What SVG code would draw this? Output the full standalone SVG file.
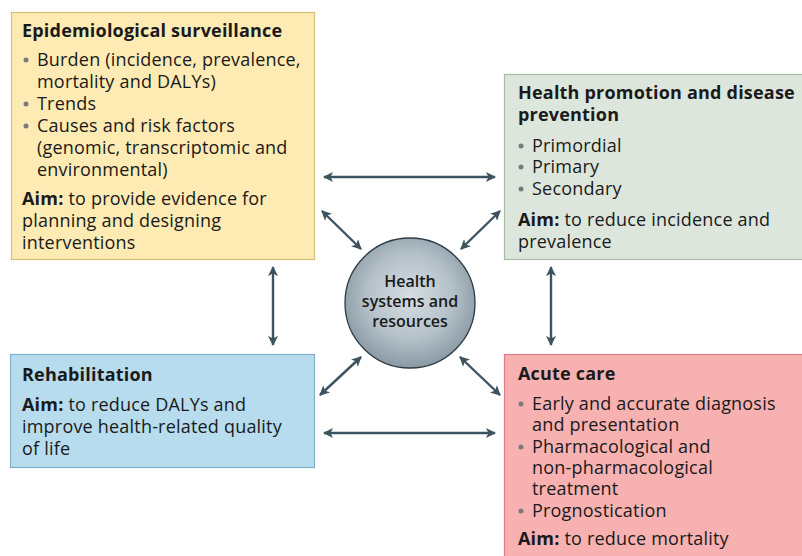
<svg xmlns="http://www.w3.org/2000/svg" width="802" height="556" viewBox="0 0 802 556">
<defs>
<radialGradient id="g" cx="50%" cy="45%" r="55%">
<stop offset="0" stop-color="#d6dee3"/>
<stop offset="0.6" stop-color="#b4c0c8"/>
<stop offset="1" stop-color="#8a99a4"/>
</radialGradient>
<marker id="ah" viewBox="0 0 10 10" refX="9" refY="5" markerWidth="4.2" markerHeight="4.2" orient="auto-start-reverse" markerUnits="strokeWidth">
<path d="M0,0 L10,5 L0,10 L2.5,5 Z" fill="#3e5360"/>
</marker>
<style>
text{font-family:"Open Sans","Noto Sans",sans-serif;font-size:18px;letter-spacing:0.2px;fill:#1a1a1a}
.b{font-weight:700}
.ct{font-size:16px;font-weight:600;letter-spacing:0}
.dot{fill:#7a7a7a}
.c{stroke:#3e5360;stroke-width:2.4;fill:none;marker-start:url(#ah);marker-end:url(#ah)}
</style>
</defs>
<rect width="802" height="556" fill="#fff"/>
<g id="connectors">
<line class="c" x1="324" y1="177" x2="495" y2="177"/>
<line class="c" x1="324" y1="433" x2="495" y2="433"/>
<line class="c" x1="273" y1="267" x2="273" y2="345"/>
<line class="c" x1="551" y1="267" x2="551" y2="345"/>
<line class="c" x1="322" y1="211" x2="361" y2="249"/>
<line class="c" x1="461" y1="249" x2="500" y2="211"/>
<line class="c" x1="361" y1="357" x2="320" y2="395"/>
<line class="c" x1="460" y1="357" x2="500" y2="395"/>
</g>
<g id="surveillance">
<rect x="11.5" y="12.5" width="303" height="247" fill="#fdebb3" stroke="#d8c07a" stroke-width="1.2"/>
<text x="22" y="37" class="b">Epidemiological surveillance</text>
<circle class="dot" cx="26" cy="60" r="2.5"/>
<text x="37" y="66">Burden (incidence, prevalence,</text>
<text x="37" y="88">mortality and DALYs)</text>
<circle class="dot" cx="26" cy="104" r="2.5"/>
<text x="37" y="110">Trends</text>
<circle class="dot" cx="26" cy="126" r="2.5"/>
<text x="37" y="132">Causes and risk factors</text>
<text x="37" y="154">(genomic, transcriptomic and</text>
<text x="37" y="176">environmental)</text>
<text x="22" y="205"><tspan class="b">Aim:</tspan> to provide evidence for</text>
<text x="22" y="227">planning and designing</text>
<text x="22" y="249">interventions</text>
</g>
<g id="prevention">
<rect x="504.5" y="74.5" width="300" height="185" fill="#dde6dc" stroke="#a8bca7" stroke-width="1.2"/>
<text x="518" y="99" class="b">Health promotion and disease</text>
<text x="518" y="121" class="b">prevention</text>
<circle class="dot" cx="521" cy="146" r="2.5"/>
<text x="532" y="152">Primordial</text>
<circle class="dot" cx="521" cy="167" r="2.5"/>
<text x="532" y="173">Primary</text>
<circle class="dot" cx="521" cy="189" r="2.5"/>
<text x="532" y="195">Secondary</text>
<text x="518" y="226"><tspan class="b">Aim:</tspan> to reduce incidence and</text>
<text x="518" y="248">prevalence</text>
</g>
<g id="rehabilitation">
<rect x="10.5" y="354.5" width="304" height="113" fill="#b6dcee" stroke="#7fb2ca" stroke-width="1.2"/>
<text x="22" y="381" class="b">Rehabilitation</text>
<text x="22" y="411"><tspan class="b">Aim:</tspan> to reduce DALYs and</text>
<text x="22" y="433">improve health-related quality</text>
<text x="22" y="455">of life</text>
</g>
<g id="acute">
<rect x="504.5" y="354.5" width="300" height="205" fill="#f7b1b1" stroke="#df7c86" stroke-width="1.2"/>
<text x="518" y="380" class="b">Acute care</text>
<circle class="dot" cx="521" cy="404" r="2.5"/>
<text x="532" y="410">Early and accurate diagnosis</text>
<text x="532" y="431">and presentation</text>
<circle class="dot" cx="521" cy="447" r="2.5"/>
<text x="532" y="453">Pharmacological and</text>
<text x="532" y="474">non-pharmacological</text>
<text x="532" y="495">treatment</text>
<circle class="dot" cx="521" cy="511" r="2.5"/>
<text x="532" y="517">Prognostication</text>
<text x="518" y="545"><tspan class="b">Aim:</tspan> to reduce mortality</text>
</g>
<g id="health-systems">
<circle cx="410" cy="303" r="65" fill="url(#g)" stroke="#2c3b44" stroke-width="1.3"/>
<text x="410" y="287" class="ct" text-anchor="middle">Health</text>
<text x="410" y="307" class="ct" text-anchor="middle">systems and</text>
<text x="410" y="327" class="ct" text-anchor="middle">resources</text>
</g>
</svg>
